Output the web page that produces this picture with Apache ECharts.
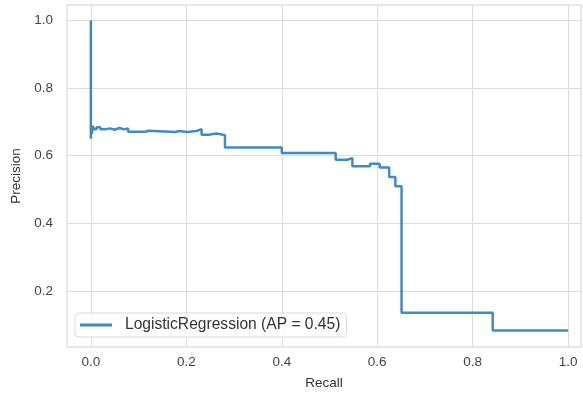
<!DOCTYPE html>
<html>
<head>
<meta charset="utf-8">
<script src="https://cdn.jsdelivr.net/npm/echarts@6/dist/echarts.min.js"></script>
<style>html,body{margin:0;padding:0;background:#fff}#c{width:583px;height:393px}</style>
</head>
<body>
<div id="c"></div>
<script>
// Precision-recall curve breakpoints (ascending recall); each precision holds on the interval ending at its recall.
const recall = [0, 0, 0.002, 0.004, 0.007, 0.012, 0.02, 0.03, 0.04, 0.05, 0.06, 0.07, 0.078, 0.115, 0.12, 0.178, 0.183, 0.203, 0.224, 0.232, 0.247, 0.263, 0.281, 0.40, 0.513, 0.537, 0.548, 0.585, 0.605, 0.625, 0.638, 0.651, 0.842, 1.0];
const precision = [1.0, 0.65, 0.695, 0.665, 0.688, 0.678, 0.684, 0.678, 0.681, 0.677, 0.682, 0.678, 0.681, 0.671, 0.674, 0.670, 0.673, 0.670, 0.674, 0.679, 0.662, 0.666, 0.661, 0.624, 0.608, 0.588, 0.593, 0.569, 0.576, 0.565, 0.537, 0.51, 0.135, 0.083];
const xTicks = [0.0, 0.2, 0.4, 0.6, 0.8, 1.0];
const yTicks = [0.2, 0.4, 0.6, 0.8, 1.0];
const seriesName = 'LogisticRegression (AP = 0.45)';

const chart = echarts.init(document.getElementById('c'), null, {renderer: 'canvas'});
const font = 'Liberation Sans, Arial, sans-serif';
const gridColor = '#dcdcdc';
const lineColor = 'rgba(31,119,180,0.85)';
chart.setOption({
  animation: false,
  grid: {left: 67, right: 2, top: 5, bottom: 46, show: true, borderColor: '#d0d0d0', borderWidth: 1, containLabel: false, outerBoundsMode: 'none'},
  xAxis: {
    type: 'value', min: -0.05, max: 1.027,
    name: 'Recall', nameLocation: 'middle', nameGap: 29,
    nameTextStyle: {fontFamily: font, fontSize: 13.5, color: '#333'},
    axisLine: {show: false}, axisTick: {show: false, customValues: xTicks},
    axisLabel: {customValues: xTicks, formatter: v => v.toFixed(1), fontFamily: font, fontSize: 13.5, color: '#444', margin: 8},
    splitLine: {show: true, lineStyle: {color: gridColor, width: 1}}
  },
  yAxis: {
    type: 'value', min: 0.034, max: 1.046,
    name: 'Precision', nameLocation: 'middle', nameGap: 41,
    nameTextStyle: {fontFamily: font, fontSize: 13.5, color: '#333'},
    axisLine: {show: false}, axisTick: {show: false, customValues: yTicks},
    axisLabel: {customValues: yTicks, formatter: v => v.toFixed(1), fontFamily: font, fontSize: 13.5, color: '#444', margin: 14},
    splitLine: {show: true, lineStyle: {color: gridColor, width: 1}}
  },
  legend: {
    left: 75, top: 313, orient: 'vertical',
    padding: [4, 6, 4, 5],
    backgroundColor: 'rgba(255,255,255,0.85)', borderColor: '#d8d8d8', borderWidth: 1, borderRadius: 4,
    icon: 'rect', itemWidth: 32, itemHeight: 3,
    itemStyle: {color: lineColor},
    textStyle: {fontFamily: font, fontSize: 15.6, color: '#333', padding: [0, 0, 0, 8]},
    data: [seriesName]
  },
  series: [{
    name: seriesName, type: 'line', step: 'start', symbol: 'none',
    data: recall.map((r, i) => [r, precision[i]]),
    lineStyle: {color: lineColor, width: 2.5},
    itemStyle: {color: lineColor}
  }]
});
</script>
</body>
</html>
